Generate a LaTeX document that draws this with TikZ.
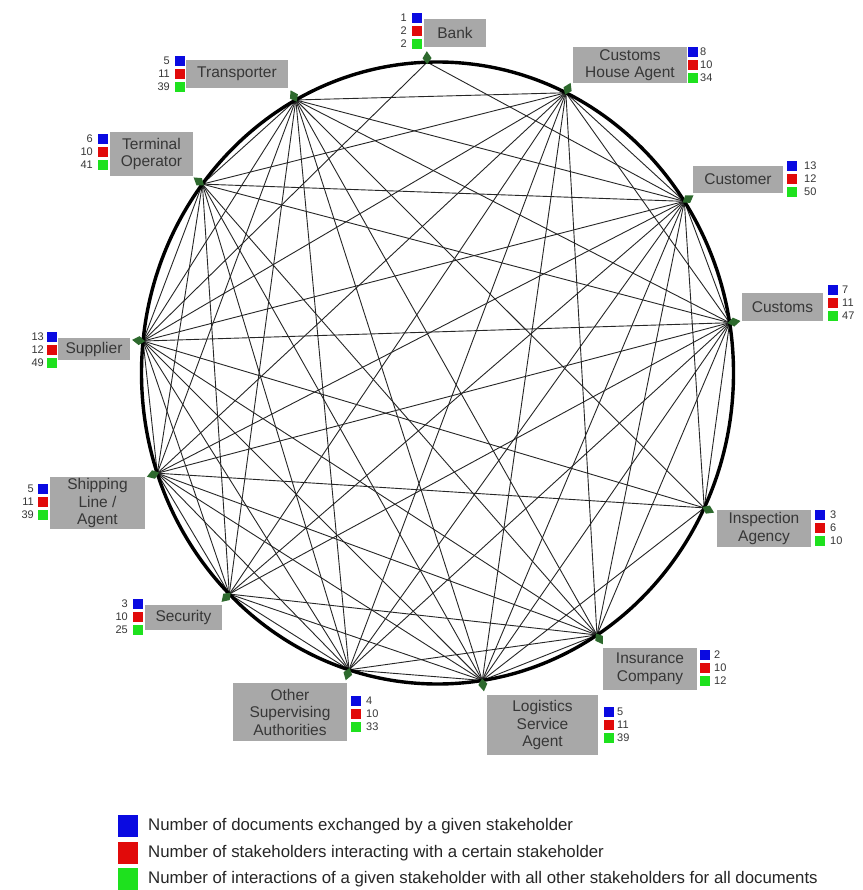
\documentclass[tikz,border=0pt]{standalone}
\usepackage{fontspec}
\setmainfont{Liberation Sans}
\usetikzlibrary{calc}
\definecolor{boxgray}{RGB}{168,168,168}
\definecolor{txtgray}{RGB}{55,55,55}
\definecolor{sqblue}{RGB}{10,10,225}
\definecolor{sqred}{RGB}{225,10,10}
\definecolor{sqgreen}{RGB}{30,225,30}
\definecolor{markgreen}{RGB}{45,105,45}
\newcommand\lblfont{\fontsize{15.5}{17.5}\selectfont}
\newcommand\numfont{\fontsize{11}{12}\selectfont}
\newcommand\legfont{\fontsize{16.8}{18}\selectfont}
\begin{document}
\begin{tikzpicture}[x=1pt,y=-1pt,
  lbl/.style={fill=boxgray, text=txtgray, font=\lblfont, align=center, inner sep=0pt},
  sq/.style={minimum size=10pt, inner sep=0pt, outer sep=0pt},
  num/.style={font=\numfont, text=txtgray, inner sep=0pt},
  edge/.style={black!85, line width=0.9pt},
  rim/.style={black, line width=3.4pt},
  legsq/.style={minimum width=20pt, minimum height=22pt, inner sep=0pt},
  legtxt/.style={font=\legfont, text=black!85, anchor=west, inner sep=0pt}]
\useasboundingbox (0,0) rectangle (862,890);
\fill[white] (0,0) rectangle (862,890);
\coordinate (C) at (437.5,373);
\foreach \n/\a in {B/268, CHA/295.7, CUS/326.5, CU/350.7, IA/25.7, IC/57.4, LSA/81.3, OSA/107.4, SEC/134.7, SLA/161.2, SUP/185.9, TO/217.4, TR/241.4}
  \coordinate (\n) at ($(C)+(\a:296 and 311)$);
% connectors
\foreach \u/\v in {CHA/CUS, CHA/CU, CHA/IC, CHA/LSA, CHA/OSA, CHA/SEC, CHA/SLA, CHA/SUP, CHA/TO, CHA/TR,
  CUS/CU, CUS/IA, CUS/IC, CUS/LSA, CUS/OSA, CUS/SEC, CUS/SLA, CUS/SUP, CUS/TO, CUS/TR, CUS/B,
  CU/IA, CU/IC, CU/LSA, CU/OSA, CU/SEC, CU/SLA, CU/SUP, CU/TO, CU/TR,
  IA/LSA, IA/SLA, IA/SUP, IA/TR,
  IC/LSA, IC/OSA, IC/SEC, IC/SLA, IC/SUP, IC/TO, IC/TR,
  LSA/OSA, LSA/SEC, LSA/SLA, LSA/SUP, LSA/TO, LSA/TR,
  OSA/SEC, OSA/SLA, OSA/SUP, OSA/TO, OSA/TR,
  SEC/SLA, SEC/SUP, SEC/TO, SEC/TR,
  SLA/SUP, SLA/TO, SLA/TR,
  SUP/TO, SUP/TR, SUP/B,
  TO/TR}
  \draw[edge] (\u) -- (\v);
\draw[rim] (C) ellipse [x radius=296, y radius=311];
% markers
\foreach \n/\a in {B/268, CHA/295.7, CUS/326.5, CU/350.7, IA/25.7, IC/57.4, LSA/81.3, OSA/107.4, SEC/134.7, SLA/161.2, SUP/185.9, TO/217.4, TR/241.4}{
  \pgfmathsetmacro\ap{\a+90}
  \pgfmathsetmacro\am{\a-90}
  \fill[markgreen] ($(\n)+(\a:-2)$) -- ($(\n)+(\a:4)+(\ap:4.5)$) -- ($(\n)+(\a:11)$) -- ($(\n)+(\a:4)+(\am:4.5)$) -- cycle;
}
% labels with indicator squares and numbers
\foreach \nm/\bx/\by/\bw/\bh/\txt/\sx/\sy/\anc/\nx/\na/\nb/\nc in {
  B/455/33/62/28/{Bank}/417/18/east/407/1/2/2,
  CHA/630/65/114/36/{Customs\\House Agent}/692.5/52/west/700/8/10/34,
  CUS/738/179.5/90/27/{Customer}/792/166/west/804/13/12/50,
  CU/782.5/307/81/28/{Customs}/832.5/290/west/842/7/11/47,
  IA/764/528.5/94/37/{Inspection\\Agency}/819.5/515/west/830/3/6/10,
  IC/650/669/94/42/{Insurance\\Company}/705/655/west/714/2/10/12,
  LSA/542.5/725/111/60/{Logistics\\Service\\Agent}/608.5/711.5/west/617/5/11/39,
  OSA/290/712/114/58/{Other\\Supervising\\Authorities}/355.5/700.5/west/366/4/10/33,
  SEC/183.5/617.5/77/25/{Security}/137.5/603.5/east/128/3/10/25,
  SLA/97.5/503/95/52/{Shipping\\Line /\\Agent}/43/489/east/34/5/11/39,
  SUP/94/349/72/22/{Supplier}/52/337/east/44/13/12/49,
  TO/151.5/154/83/44/{Terminal\\Operator}/103/139/east/93/6/10/41,
  TR/237/74/102/28/{Transporter}/179.5/61/east/170/5/11/39}{
  \node[lbl, minimum width=\bw, minimum height=\bh] (l\nm) at (\bx,\by) {\txt};
  \node[sq, fill=sqblue] (b\nm) at (\sx,\sy) {};
  \node[sq, fill=sqred] (r\nm) at (\sx,\sy+13) {};
  \node[sq, fill=sqgreen] (g\nm) at (\sx,\sy+26) {};
  \node[num, anchor=\anc] (nb\nm) at (\nx,\sy) {\na};
  \node[num, anchor=\anc] (nr\nm) at (\nx,\sy+13) {\nb};
  \node[num, anchor=\anc] (ng\nm) at (\nx,\sy+26) {\nc};
}
% legend
\node[legsq, fill=sqblue] (legb) at (128,826) {};
\node[legsq, fill=sqred] (legr) at (128,853) {};
\node[legsq, fill=sqgreen] (legg) at (128,879) {};
\node[legtxt] (legbt) at (148,826) {Number of documents exchanged by a given stakeholder};
\node[legtxt] (legrt) at (148,853) {Number of stakeholders interacting with a certain stakeholder};
\node[legtxt] (leggt) at (148,879) {Number of interactions of a given stakeholder with all other stakeholders for all documents};
\end{tikzpicture}
\end{document}
